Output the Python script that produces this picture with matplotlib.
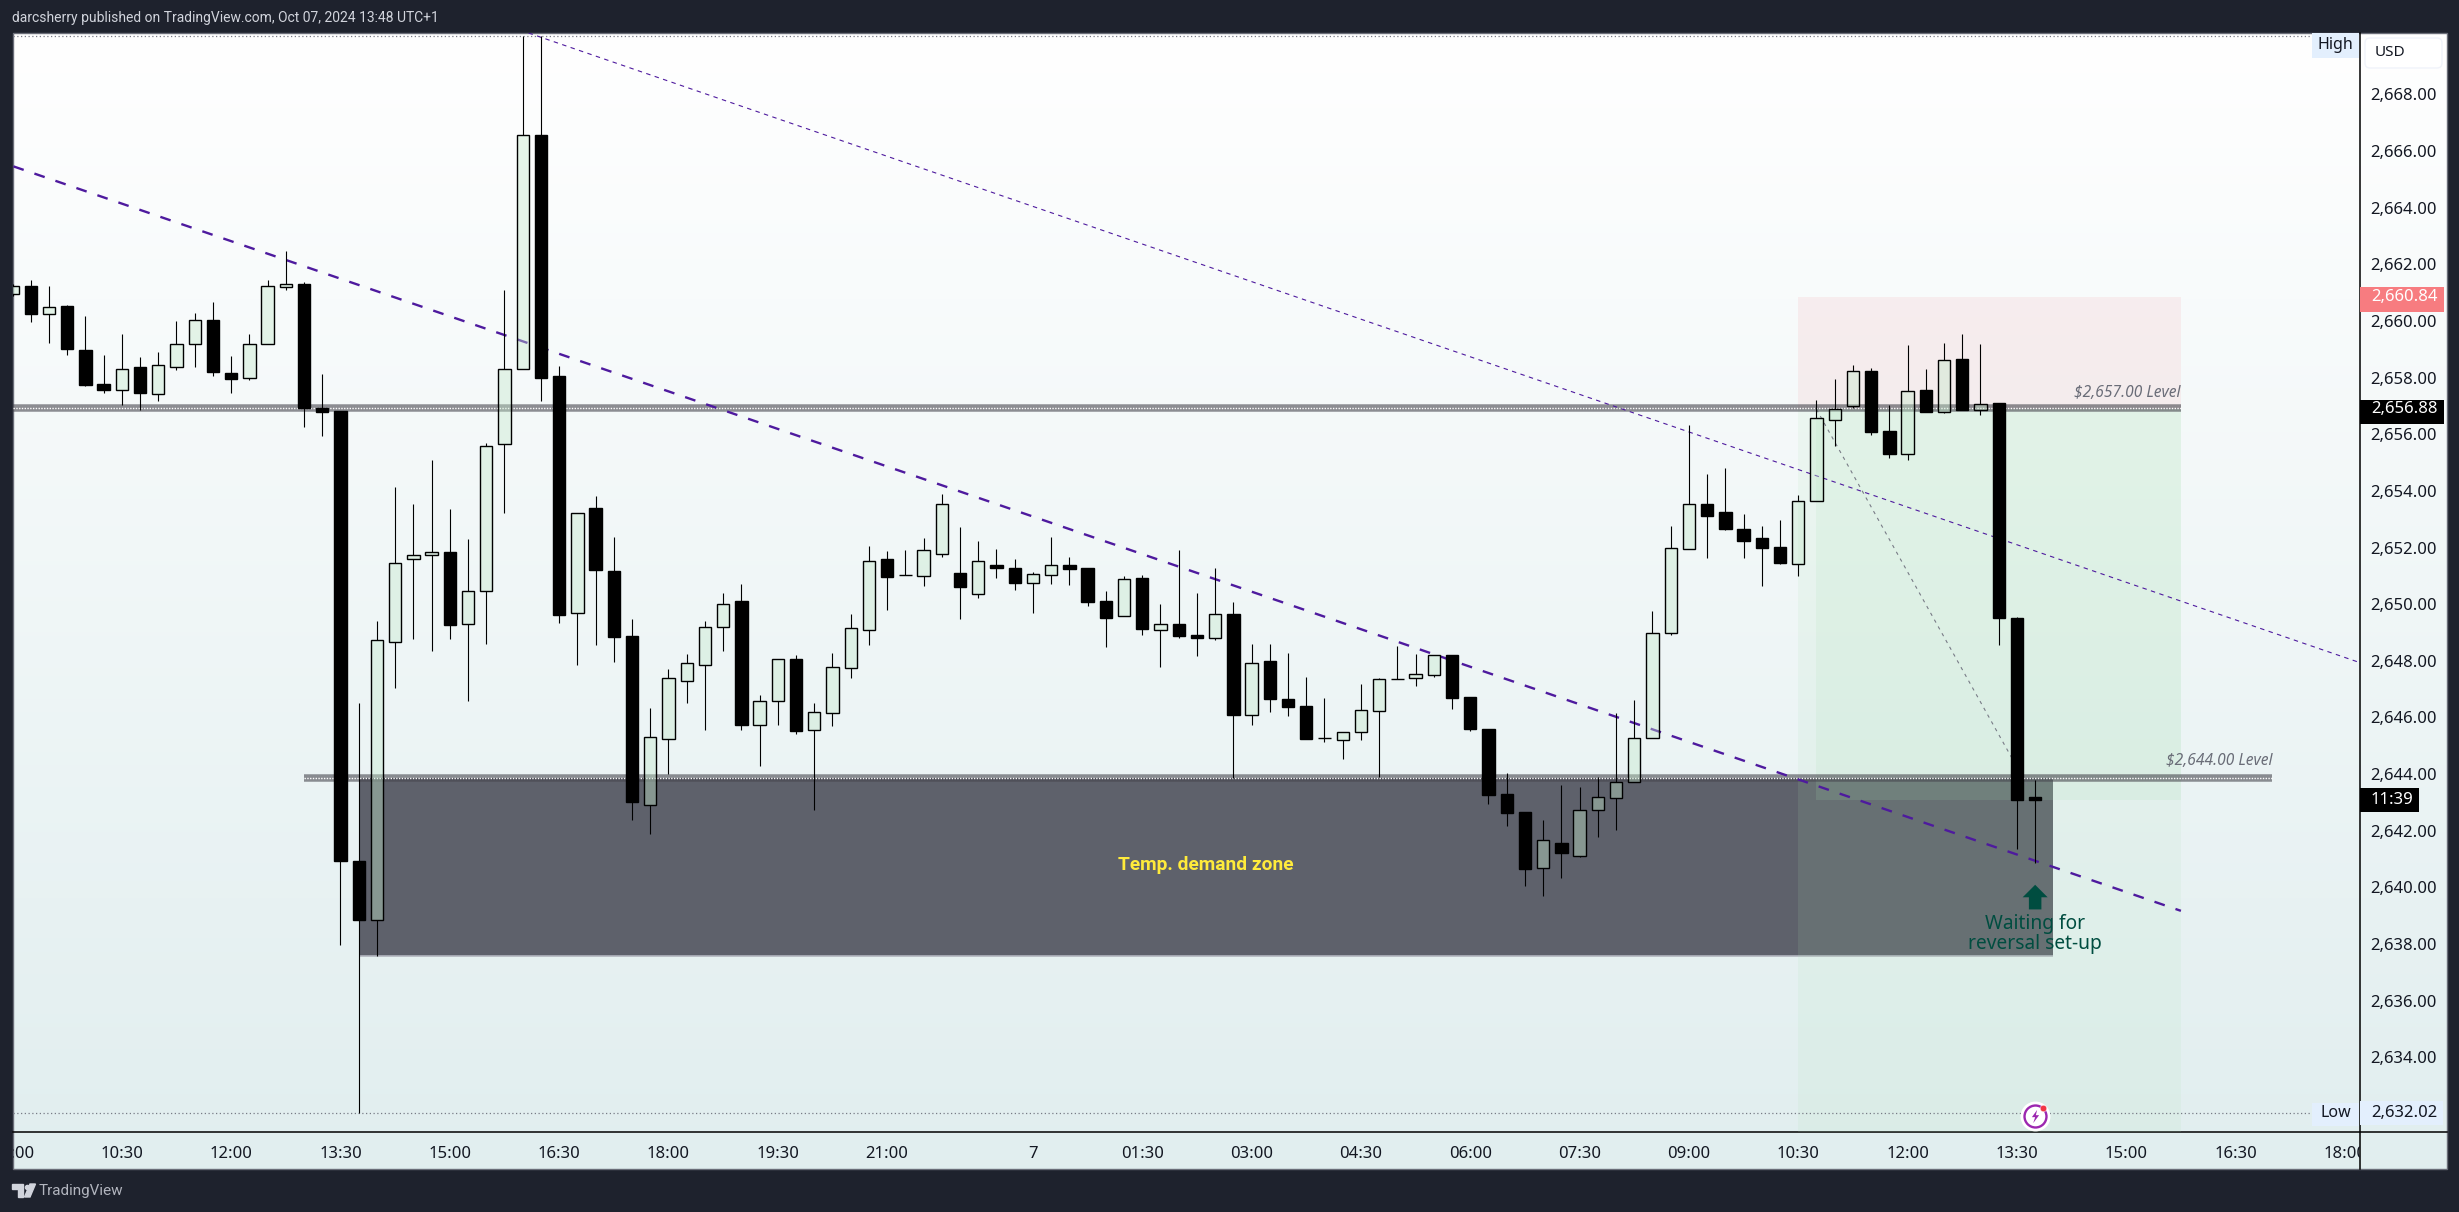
"""XAUUSD 15m chart with demand zone, trend lines and a long position box."""

import matplotlib

matplotlib.use("Agg")
import matplotlib.pyplot as plt
import numpy as np
from matplotlib.patches import FancyBboxPatch, Polygon, Rectangle
from matplotlib.path import Path

FIG_W, FIG_H = 2459, 1212
CHART_L, CHART_T, CHART_R, CHART_B = 12.5, 33, 2446.5, 1169
PLOT_R, PLOT_B = 2359.5, 1132

opens = [
    2660.96, 2661.24, 2660.23, 2660.53, 2658.99, 2657.79, 2657.58, 2658.36, 2657.41, 2658.39,
    2659.17, 2660.03, 2658.15, 2657.97, 2659.17, 2661.21, 2661.31, 2656.91, 2656.81, 2640.92,
    2638.83, 2648.67, 2651.58, 2651.72, 2651.84, 2649.30, 2650.45, 2655.64, 2658.32, 2666.57,
    2658.06, 2649.68, 2653.38, 2651.17, 2648.88, 2642.90, 2645.23, 2647.30, 2647.86, 2649.21,
    2650.11, 2645.75, 2646.57, 2648.07, 2645.57, 2646.17, 2647.76, 2649.10, 2651.60, 2651.03,
    2651.01, 2651.78, 2651.10, 2650.37, 2651.38, 2651.28, 2650.76, 2651.04, 2651.38, 2651.28,
    2650.11, 2649.59, 2650.93, 2649.07, 2649.30, 2648.91, 2648.81, 2649.65, 2646.10, 2647.99,
    2646.65, 2646.41, 2645.27, 2645.22, 2645.47, 2646.24, 2647.36, 2647.41, 2647.51, 2648.20,
    2646.72, 2645.59, 2643.30, 2642.67, 2640.68, 2641.57, 2641.12, 2642.72, 2643.17, 2643.71,
    2645.26, 2648.99, 2651.96, 2653.52, 2653.25, 2652.67, 2652.34, 2652.02, 2651.43, 2653.63,
    2656.51, 2657.00, 2658.23, 2656.12, 2655.31, 2657.57, 2656.80, 2658.65, 2656.87, 2657.10,
    2649.51, 2643.19,
]
highs = [
    2661.30, 2661.45, 2661.25, 2660.58, 2660.18, 2658.80, 2659.54, 2658.73, 2658.91, 2660.00,
    2660.28, 2660.67, 2658.77, 2659.54, 2661.45, 2662.47, 2661.39, 2658.13, 2656.81, 2646.51,
    2649.40, 2654.13, 2653.53, 2655.10, 2653.36, 2652.30, 2655.68, 2661.10, 2670.06, 2670.05,
    2658.40, 2653.21, 2653.82, 2652.37, 2649.47, 2646.33, 2647.70, 2648.25, 2649.39, 2650.39,
    2650.71, 2646.80, 2648.05, 2648.21, 2646.51, 2648.28, 2649.65, 2652.05, 2651.88, 2651.91,
    2652.34, 2653.89, 2652.73, 2652.23, 2651.95, 2651.60, 2651.14, 2652.37, 2651.67, 2651.28,
    2650.47, 2650.98, 2651.02, 2650.01, 2651.91, 2650.38, 2651.28, 2650.08, 2648.59, 2648.59,
    2648.28, 2647.43, 2646.69, 2645.48, 2647.18, 2647.39, 2648.52, 2648.24, 2648.22, 2648.20,
    2646.72, 2645.59, 2644.05, 2642.67, 2642.38, 2643.62, 2643.55, 2643.88, 2646.15, 2646.61,
    2649.77, 2652.76, 2656.32, 2654.59, 2654.81, 2653.19, 2652.76, 2652.97, 2653.85, 2657.21,
    2657.95, 2658.45, 2658.34, 2657.03, 2659.15, 2658.31, 2659.22, 2659.54, 2659.19, 2657.10,
    2649.55, 2643.79,
]
lows = [
    2660.90, 2659.98, 2659.24, 2658.81, 2657.72, 2657.44, 2657.04, 2656.84, 2657.18, 2658.27,
    2658.38, 2658.04, 2657.44, 2657.90, 2659.17, 2661.11, 2656.24, 2655.95, 2637.95, 2632.02,
    2637.59, 2647.05, 2648.77, 2648.36, 2648.77, 2646.57, 2648.60, 2653.23, 2658.32, 2657.18,
    2649.35, 2647.86, 2648.56, 2647.94, 2642.39, 2641.88, 2643.99, 2646.51, 2645.56, 2648.33,
    2645.56, 2644.29, 2645.74, 2645.42, 2642.73, 2645.70, 2647.39, 2648.56, 2649.80, 2651.02,
    2650.64, 2651.67, 2649.48, 2650.22, 2650.93, 2650.50, 2649.70, 2650.71, 2650.68, 2649.94,
    2648.49, 2649.59, 2648.91, 2647.78, 2648.81, 2648.17, 2648.74, 2643.87, 2645.73, 2646.19,
    2646.05, 2645.24, 2645.13, 2644.53, 2645.22, 2643.91, 2647.35, 2647.11, 2647.43, 2646.30,
    2645.52, 2642.94, 2642.17, 2640.06, 2639.71, 2640.34, 2641.07, 2641.79, 2642.04, 2643.71,
    2645.26, 2648.91, 2651.96, 2651.64, 2652.62, 2651.64, 2650.65, 2651.42, 2651.00, 2653.63,
    2655.58, 2656.92, 2655.96, 2655.17, 2655.08, 2656.80, 2656.75, 2656.85, 2656.69, 2648.57,
    2641.35, 2640.86,
]
closes = [
    2661.25, 2660.26, 2660.51, 2659.02, 2657.75, 2657.58, 2658.32, 2657.44, 2658.43, 2659.17,
    2660.03, 2658.21, 2657.96, 2659.17, 2661.23, 2661.30, 2656.91, 2656.80, 2640.92, 2638.83,
    2648.73, 2651.44, 2651.75, 2651.83, 2649.28, 2650.45, 2655.57, 2658.32, 2666.56, 2657.99,
    2649.60, 2653.21, 2651.21, 2648.85, 2643.01, 2645.30, 2647.38, 2647.92, 2649.21, 2650.00,
    2645.75, 2646.57, 2648.05, 2645.53, 2646.18, 2647.77, 2649.15, 2651.51, 2650.97, 2651.02,
    2651.90, 2653.53, 2650.62, 2651.51, 2651.28, 2650.76, 2651.05, 2651.37, 2651.24, 2650.08,
    2649.51, 2650.88, 2649.12, 2649.29, 2648.88, 2648.81, 2649.64, 2646.09, 2647.91, 2646.66,
    2646.38, 2645.24, 2645.26, 2645.48, 2646.25, 2647.35, 2647.35, 2647.52, 2648.19, 2646.69,
    2645.59, 2643.26, 2642.64, 2640.65, 2641.66, 2641.21, 2642.72, 2643.18, 2643.71, 2645.26,
    2648.99, 2651.97, 2653.52, 2653.11, 2652.65, 2652.23, 2651.98, 2651.45, 2653.63, 2656.56,
    2656.88, 2658.22, 2656.09, 2655.30, 2657.51, 2656.80, 2658.64, 2656.86, 2657.08, 2649.50,
    2643.07, 2643.10,
]

time_ticks = [0, 6, 12, 18, 24, 30, 36, 42, 48, 56, 62, 68, 74, 80, 86, 92, 98, 104, 110, 116, 122, 128]
time_labels = ["09:00", "10:30", "12:00", "13:30", "15:00", "16:30", "18:00", "19:30", "21:00", "7",
               "01:30", "03:00", "04:30", "06:00", "07:30", "09:00", "10:30", "12:00", "13:30",
               "15:00", "16:30", "18:00"]
price_ticks = list(range(2634, 2670, 2))

SESSION_HIGH = 2670.06
SESSION_LOW = 2632.02
STOP_PRICE = 2660.84
ENTRY_PRICE = 2656.88
LAST_PRICE = 2643.10
LEVEL_UPPER = 2656.91
LEVEL_LOWER = 2643.86
ZONE_LOW = 2637.58

BG_DARK = "#1e222d"
TEXT_DARK = "#131722"
PURPLE = "#4e1a9e"
FONT = "Noto Sans"

plt.rcParams["font.family"] = [FONT, "DejaVu Sans"]


def px_rect(left, top, right, bottom):
    return [left / FIG_W, 1 - bottom / FIG_H, (right - left) / FIG_W, (bottom - top) / FIG_H]


fig = plt.figure(figsize=(FIG_W / 100, FIG_H / 100), dpi=100, facecolor=BG_DARK)

# page furniture, in pixel coordinates
chrome = fig.add_axes([0, 0, 1, 1], zorder=0)
chrome.set_xlim(0, FIG_W)
chrome.set_ylim(FIG_H, 0)
chrome.axis("off")
gradient = np.linspace(0, 1, 256)[:, None, None]
top_colour = np.array([1.0, 1.0, 1.0])
bottom_colour = np.array([0.882, 0.933, 0.937])
chrome.imshow(top_colour + (bottom_colour - top_colour) * gradient, aspect="auto",
              extent=(CHART_L, CHART_R, CHART_B, CHART_T), zorder=0)
chrome.set_xlim(0, FIG_W)
chrome.set_ylim(FIG_H, 0)
chrome.add_patch(Rectangle((CHART_L, CHART_T), CHART_R - CHART_L, CHART_B - CHART_T,
                           fill=False, ec="#6a6d78", lw=1, zorder=1))
chrome.plot([PLOT_R, PLOT_R], [CHART_T, CHART_B], color="black", lw=1.1, zorder=2)
chrome.plot([CHART_L, CHART_R], [PLOT_B, PLOT_B], color="black", lw=1.1, zorder=2)
chrome.text(12, 18, "darcsherry published on TradingView.com, Oct 07, 2024 13:48 UTC+1",
            color="#d1d4dc", fontsize=10, family="Roboto", va="center", ha="left")
chrome.text(39, 1191, "TradingView", color="#b2b5be", fontsize=11, family="Roboto", va="center", ha="left")
chrome.add_patch(Polygon([(12, 1184), (23, 1184), (23, 1197), (18, 1197), (18, 1189), (12, 1189)],
                         color="#d1d4dc", zorder=2))
chrome.add_patch(Polygon([(30, 1184), (35.5, 1184), (30, 1197), (24.5, 1197)], color="#d1d4dc", zorder=2))
chrome.scatter([26.5], [1186.5], s=9, color="#d1d4dc", zorder=2)
chrome.add_patch(FancyBboxPatch((2368, 41), 71, 24, boxstyle="round,pad=3,rounding_size=5",
                                fc="white", ec="#f0f3fa", lw=1, zorder=2))
chrome.text(2390, 53, "USD", color=TEXT_DARK, fontsize=11, va="center", ha="center", zorder=3)

# main pane
ax = fig.add_axes(px_rect(CHART_L, CHART_T, PLOT_R, PLOT_B), zorder=2)
ax.patch.set_alpha(0)
ax.set_xlim(0.12, 128.8)
ax.set_ylim(2631.36, 2670.17)
for spine in ax.spines.values():
    spine.set_visible(False)

# demand zone
ax.add_patch(Rectangle((19, ZONE_LOW), 93, LEVEL_LOWER - ZONE_LOW, fc="#5e616b", ec="none", zorder=1))
ax.hlines(ZONE_LOW, 19, 112, color="#b2b5be", lw=1.2, zorder=1.1)

# long position box
ax.add_patch(Rectangle((98, ENTRY_PRICE), 21, STOP_PRICE - ENTRY_PRICE, fc="#f23645", alpha=0.065,
                       ec="none", zorder=3))
ax.add_patch(Rectangle((98, 2625), 21, ENTRY_PRICE - 2625, fc="#aae1b4", alpha=0.12, ec="none", zorder=3))
ax.add_patch(Rectangle((99, LAST_PRICE), 20, ENTRY_PRICE - LAST_PRICE, fc="#aae1b4", alpha=0.15,
                       ec="none", zorder=3))
ax.plot([99, 111], [ENTRY_PRICE, LAST_PRICE], color="#787b86", lw=0.8, ls=(0, (3, 4)), zorder=3.2)

# horizontal levels
for y_level, x0, x1 in [(LEVEL_UPPER, 0, 119), (LEVEL_LOWER, 16, 124)]:
    ax.hlines(y_level, x0, x1, color="#46464e", alpha=0.6, lw=5.4, zorder=3.5)
    ax.hlines(y_level, x0, x1, color="white", lw=1, ls=(0, (1, 1)), zorder=3.6)
ax.text(119, 2657.46, "$2,657.00 Level", color="#6a6d78", fontsize=11.2, style="italic",
        ha="right", va="center", zorder=6)
ax.text(124, 2644.46, "$2,644.00 Level", color="#6a6d78", fontsize=11.2, style="italic",
        ha="right", va="center", zorder=6)

# trend lines
ax.plot([0.05, 119], [2665.46, 2639.17], color=PURPLE, lw=1.7, ls=(0, (4.6, 4.8)), zorder=4)
ax.plot([28.32, 128.8], [2670.17, 2647.94], color=PURPLE, lw=0.8, ls=(0, (4, 4)), zorder=4)

# session high / low markers
ax.hlines(SESSION_HIGH, 0, 126.2, color="#787b86", lw=0.9, ls=(0, (1, 2)), zorder=2)
ax.hlines(SESSION_LOW, 0, 126.2, color="#787b86", lw=0.9, ls=(0, (1, 2)), zorder=4.5)
ax.add_patch(Rectangle((126.2, 2669.29), 2.6, 0.88, fc="#e3effd", ec="none", zorder=6))
ax.add_patch(Rectangle((126.2, 2631.56), 2.6, 0.84, fc="#e3effd", ec="none", zorder=6))
ax.text(127.5, 2669.75, "High", color=TEXT_DARK, fontsize=11.5, ha="center", va="center", zorder=7)
ax.text(127.5, SESSION_LOW, "Low", color=TEXT_DARK, fontsize=11.5, ha="center", va="center", zorder=7)

# candles
x = np.arange(len(opens))
o, h, l, c = (np.array(s) for s in (opens, highs, lows, closes))
body_top, body_bottom = np.maximum(o, c), np.minimum(o, c)
ax.vlines(x, body_top, h, color="black", lw=0.8, zorder=5)
ax.vlines(x, l, body_bottom, color="black", lw=0.8, zorder=5)
faces = [(0, 0, 0, 1) if cl < op else (197 / 255, 233 / 255, 204 / 255, 0.4) for op, cl in zip(opens, closes)]
ax.bar(x, body_top - body_bottom, bottom=body_bottom, width=0.68, color=faces, edgecolor="black",
       linewidth=1, zorder=5.5)

# annotations
ax.text(65.5, 2640.79, "Temp. demand zone", color="#ffeb3b", fontsize=13.8, fontweight="bold",
        family="Roboto", ha="center", va="center", zorder=6)
ax.annotate("", xy=(111, 2640.09), xytext=(111, 2639.22), zorder=6,
            arrowprops=dict(width=9, headwidth=18, headlength=9, shrink=0, color="#004d40", lw=0))
ax.text(111, 2638.35, "Waiting for\nreversal set-up", color="#004d40", fontsize=13.8, ha="center",
        va="center", linespacing=0.95, zorder=6)

# event icon on the time axis
BOLT = Path([(0.25, 1), (-0.55, -0.1), (-0.05, -0.1), (-0.35, -1), (0.55, 0.2), (0.05, 0.2), (0.25, 1)], closed=True)
ax.scatter([111], [2631.93], s=420, color="white", zorder=7)
ax.scatter([111], [2631.93], s=250, facecolor="white", edgecolor="#9c27b0", linewidth=1.7, zorder=7.1)
ax.scatter([111], [2631.93], s=90, marker=BOLT, color="#9c27b0", linewidth=0, zorder=7.2)
ax.scatter([111.45], [2632.22], s=22, color="#f23645", edgecolor="white", linewidth=0.3, zorder=7.3)

# axes
ax.set_xticks(time_ticks, time_labels)
ax.yaxis.tick_right()
ax.set_yticks(price_ticks, [f"{p:,.2f}" for p in price_ticks])
ax.tick_params(axis="x", length=0, pad=10, labelsize=12, labelcolor=TEXT_DARK)
ax.tick_params(axis="y", length=0, pad=8, labelsize=12, labelcolor=TEXT_DARK)

# time labels are cut off at the pane edges
time_strip = fig.add_axes(px_rect(CHART_L, PLOT_B, PLOT_R, CHART_B), zorder=1)
time_strip.axis("off")
for label in ax.get_xticklabels():
    label.set_clip_box(time_strip.bbox)
    label.set_clip_on(True)

# price scale tags
tags = fig.add_axes(px_rect(PLOT_R, CHART_T, CHART_R, PLOT_B), zorder=1.5)
tags.patch.set_alpha(0)
tags.axis("off")
tags.set_xlim(PLOT_R, CHART_R)
tags.set_ylim(ax.get_ylim())
tag_h = 0.85
for price, text, fill, colour, right in [
    (STOP_PRICE, "2,660.84", "#f77c80", "white", 2444),
    (ENTRY_PRICE, "2,656.88", "#000000", "white", 2444),
    (LAST_PRICE, "11:39", "#000000", "white", 2419),
    (SESSION_LOW, "2,632.02", "#e3effd", TEXT_DARK, 2443),
]:
    offset = 0.08 if price in (ENTRY_PRICE, STOP_PRICE) else 0
    tags.add_patch(Rectangle((PLOT_R + 0.5, price - tag_h / 2 - offset), right - PLOT_R - 0.5, tag_h,
                             fc=fill, ec="none"))
    tags.text(2371, price, text, color=colour, fontsize=12, va="center", ha="left")

fig.savefig("out.png", dpi=100, facecolor=fig.get_facecolor())
